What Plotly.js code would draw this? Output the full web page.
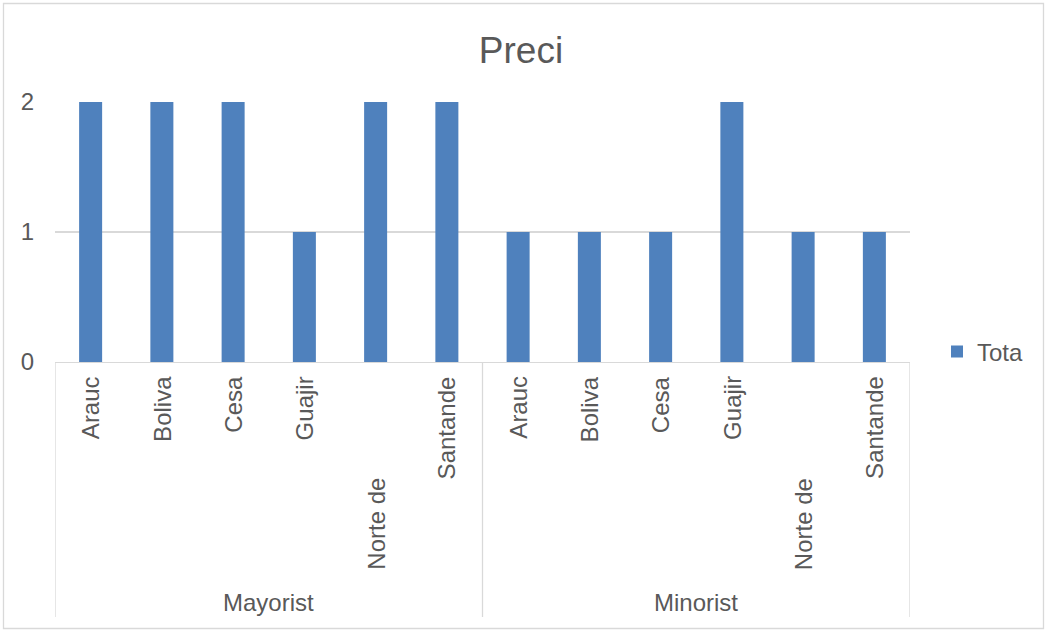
<!DOCTYPE html>
<html>
<head>
<meta charset="utf-8">
<script src="https://cdn.plot.ly/plotly-3.0.1.min.js"></script>
<style>
  html, body { margin: 0; padding: 0; background: #ffffff; }
  #chart { width: 1047px; height: 631px; }
</style>
</head>
<body>
<div id="chart"></div>
<script>
// Price counts by department, split into wholesale / retail channels
const chartTitle = 'Preci';
const seriesName = 'Tota';
const groups = ['Mayorist', 'Minorist'];
const regions = ['Arauc', 'Boliva', 'Cesa', 'Guajir', 'Norte de', 'Santande'];
const mayoristValues = [2, 2, 2, 1, 2, 2];
const minoristValues = [1, 1, 1, 2, 1, 1];
const yTicks = [0, 1, 2];

const W = 1047, H = 631;
const margin = { l: 55, r: 137, t: 102, b: 269 };
const plotW = W - margin.l - margin.r;
const plotH = H - margin.t - margin.b;
const pxX = px => (px - margin.l) / plotW;          // pixel -> paper x
const pxY = py => (H - margin.b - py) / plotH;      // pixel -> paper y

const textColor = '#595959';
const gridColor = '#d9d9d9';
const font = 'Liberation Sans, Arial, sans-serif';
const labelSize = 24;

// one bar per (group, region) pair, laid out left to right
const values = [mayoristValues, minoristValues];
const xs = [], ys = [];
groups.forEach((g, gi) => {
  regions.forEach((r, ri) => {
    xs.push(gi * regions.length + ri);
    ys.push(values[gi][ri]);
  });
});
const nCats = xs.length;

const trace = {
  type: 'bar',
  name: seriesName,
  x: xs,
  y: ys,
  marker: { color: '#4f81bd' },
  hoverinfo: 'x+y'
};

const annotations = [];
const shapes = [];

// rotated region labels under each bar; wrapped labels sit below the single-line column
const wrapOffset = 102;
groups.forEach((g, gi) => {
  regions.forEach((r, ri) => {
    const wrapped = r.indexOf(' ') >= 0;
    annotations.push({
      x: gi * regions.length + ri, xref: 'x',
      y: 0, yref: 'y',
      yanchor: 'top', xanchor: 'center',
      yshift: -12 - (wrapped ? wrapOffset : 0),
      text: r, textangle: -90, showarrow: false,
      font: { family: font, size: labelSize, color: textColor }
    });
  });
  // group label, centred under its block of regions
  annotations.push({
    x: gi * regions.length + (regions.length - 1) / 2, xref: 'x',
    y: pxY(602), yref: 'paper', yanchor: 'middle', xanchor: 'center',
    text: g, showarrow: false,
    font: { family: font, size: labelSize, color: textColor }
  });
});

// vertical dividers between the groups
for (let gi = 0; gi <= groups.length; gi++) {
  const xb = gi * regions.length - 0.5;
  shapes.push({
    type: 'line', xref: 'x', yref: 'paper',
    x0: xb, x1: xb, y0: 0, y1: pxY(617),
    line: { color: gridColor, width: 1.3 }
  });
}

// chart frame
shapes.push({
  type: 'rect', xref: 'paper', yref: 'paper',
  x0: pxX(3.5), x1: pxX(1043.5), y0: pxY(628.5), y1: pxY(3.5),
  line: { color: gridColor, width: 1.3 }
});

const layout = {
  width: W, height: H,
  margin: margin,
  paper_bgcolor: '#ffffff',
  plot_bgcolor: '#ffffff',
  font: { family: font, color: textColor },
  title: {
    text: chartTitle,
    font: { family: font, size: 37, color: textColor },
    xref: 'container', x: 521 / W, xanchor: 'center',
    yref: 'container', y: 1 - 50 / H, yanchor: 'middle'
  },
  bargap: 0.677,
  showlegend: true,
  legend: {
    x: pxX(937), xanchor: 'left',
    y: pxY(352), yanchor: 'middle',
    font: { family: font, size: labelSize, color: textColor },
    bgcolor: 'rgba(0,0,0,0)'
  },
  xaxis: {
    range: [-0.5, nCats - 0.5],
    showticklabels: false,
    showgrid: false,
    zeroline: false,
    showline: true, linecolor: gridColor, linewidth: 1.3,
    ticks: '', fixedrange: true
  },
  yaxis: {
    range: [0, 2],
    tickvals: yTicks,
    ticktext: yTicks.map(String),
    showgrid: true, gridcolor: gridColor, gridwidth: 1.3,
    zeroline: false, showline: false,
    ticks: '', ticklabelstandoff: 20,
    tickfont: { family: font, size: labelSize, color: textColor },
    fixedrange: true
  },
  annotations: annotations,
  shapes: shapes
};

Plotly.newPlot('chart', [trace], layout, { displayModeBar: false, staticPlot: true });
</script>
</body>
</html>
